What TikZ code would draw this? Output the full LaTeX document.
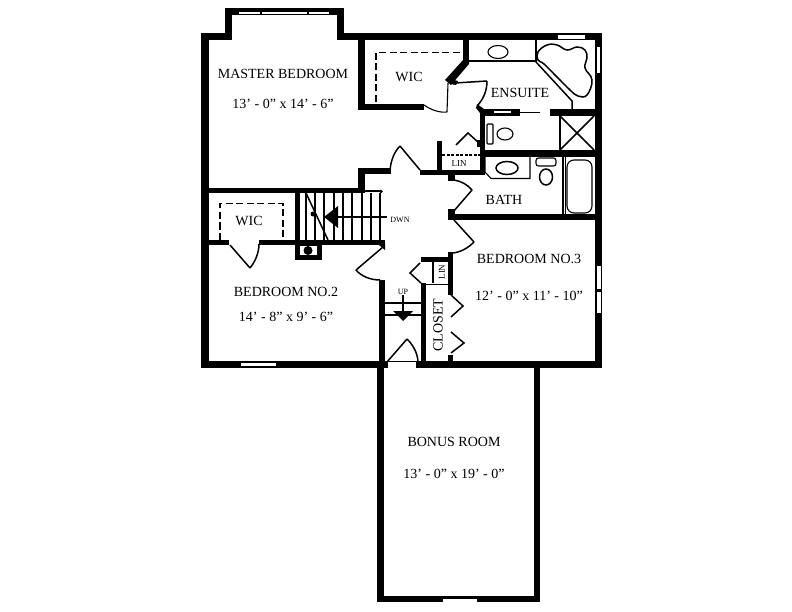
\documentclass[tikz,border=0pt]{standalone}
\usepackage{fontspec}
\setmainfont{Liberation Serif}
\tikzset{
  wall/.style={fill=black,draw=none},
  thinline/.style={draw=black,line width=1.1bp},
  medline/.style={draw=black,line width=1.5bp},
  dashline/.style={draw=black,line width=1.5bp,dash pattern=on 7bp off 3.5bp},
  glass/.style={fill=white,draw=none},
  label/.style={font=\fontsize{14bp}{16bp}\selectfont,inner sep=0pt,text=black},
  small/.style={font=\fontsize{8bp}{9bp}\selectfont,inner sep=0pt,text=black},
}
\begin{document}
\begin{tikzpicture}[x=1bp,y=-1bp]
\useasboundingbox (0,0) rectangle (792,612);
\fill[white] (0,0) rectangle (792,612);
% outer walls
\fill[wall] (201,33) rectangle (209,368);
\fill[wall] (201,33) rectangle (232,40);
\fill[wall] (225,8) rectangle (232,40);
\fill[wall] (225,8) rectangle (344,15);
\fill[wall] (337,8) rectangle (344,40);
\fill[wall] (337,33) rectangle (602,40.5);
\fill[wall] (594.5,33) rectangle (602,368);
\fill[wall] (201,361) rectangle (602,368);
% bonus
\fill[wall] (377,361) rectangle (384,602);
\fill[wall] (534,361) rectangle (540,602);
\fill[wall] (377,596) rectangle (540,602);
% windows
\fill[glass] (239,12) rectangle (260,14.5);
\fill[glass] (262,12) rectangle (307,14.5);
\fill[glass] (309,12) rectangle (329,14.5);
\fill[glass] (558,35.5) rectangle (585,39);
\fill[glass] (596.5,47) rectangle (600,73);
\fill[glass] (241,363) rectangle (276,366);
\fill[glass] (596.5,266) rectangle (600.5,289);
\fill[glass] (596.5,292) rectangle (600.5,313);
\fill[glass] (443,599) rectangle (477,602);
\fill[glass] (388,362) rectangle (416,368);
% master WIC
\fill[wall] (358,40) rectangle (365,110);
\fill[wall] (358,104) rectangle (424,110);
\fill[wall] (463,40) rectangle (469,62);
\fill[wall] (463,60) -- (469,60) -- (469,64) -- (451,85) -- (445,80) -- cycle;
\fill[wall] (450,79) -- (458,81) -- (456,85) -- (450,84) -- cycle;
\draw[dashline] (376,102) -- (376,52.5) -- (463,52.5);
\draw[thinline] (448,83) -- (447,112);
\draw[thinline] (447,112) .. controls (440,113) and (431,110) .. (424,105);
\node[label] (wicA) at (409,77) {WIC};
\node[label] (master) at (283,74) {MASTER BEDROOM};
\node[label] (masterdim) at (283,104) {13’ - 0” x 14’ - 6”};
% ensuite
\draw[medline] (469,61) -- (536,61);
\fill[wall] (535,40) rectangle (537,62);
\draw[thinline] (498,52) ellipse [x radius=10, y radius=6.5];
\draw[medline] plot[smooth cycle,tension=0.7] coordinates {(538,60) (538,52) (547,45) (557,45) (567,50) (577,47) (585,50) (587,58) (585,68) (592,80) (587,95) (578,96) (570,90) (557,77) (544,64)};
\draw[medline] (536,62) -- (572,101) -- (572,109);
\node[label] (ensuite) at (520,93) {ENSUITE};
\draw[medline] (455,83) -- (487,81);
\draw[medline] (487,81) .. controls (487,90) and (484,98) .. (478,105);
\fill[wall] (477,104) -- (484,109) -- (480,113) -- (476,108) -- cycle;
\fill[wall] (480,109) rectangle (520,116);
\fill[glass] (494,111.5) rectangle (511,113);
\draw[medline] (520,112.5) -- (540,112.5);
\fill[wall] (550,109) rectangle (597,116);
\fill[wall] (480,109) rectangle (485,157);
\fill[wall] (480,150) rectangle (597,157);
\draw[medline] (560,116) -- (560,150);
\draw[medline] (560,116) -- (594,150);
\draw[medline] (594,116) -- (560,150);
\draw[thinline,rounded corners=1bp] (487,124) rectangle (493,144);
\draw[thinline] (505,134) ellipse [x radius=8, y radius=6];
\draw[medline] (479,143) -- (468,133) -- (456,145);
\fill[wall] (477,140) rectangle (482,147);
% LIN
\fill[wall] (437,141) rectangle (442,172);
\fill[wall] (420,170) rectangle (482,175);
\fill[wall] (480,155) rectangle (485,175);
\draw[thinline,dash pattern=on 3bp off 1.5bp] (442,155) -- (480,155);
\node[small,font=\fontsize{9bp}{10bp}\selectfont] (linA) at (459,164) {LIN};
% door to master / hall
\draw[medline] (400,146) -- (420,170);
\draw[medline] (390,173) .. controls (390,162) and (394,152) .. (400,146);
\fill[wall] (358,168) rectangle (391,174);
\fill[wall] (358,168) rectangle (365,193);
\fill[wall] (209,188) rectangle (365,193);
% bath
\draw[thinline] (485,157) -- (485,172) -- (491,178.5) -- (530,178.5) -- (530,157);
\draw[medline] (507,168) ellipse [x radius=11, y radius=6.5];
\draw[thinline,rounded corners=2.5bp] (536,158) rectangle (556,166);
\draw[medline] (546,177) ellipse [x radius=6.5, y radius=8];
\draw[thinline] (563,157) -- (563,214);
\draw[thinline] (565.5,157) -- (565.5,214);
\draw[thinline,rounded corners=7bp] (567,160) rectangle (592,213);
\fill[wall] (448,175) rectangle (455,181);
\fill[wall] (448,209) rectangle (455,220);
\fill[wall] (448,214) rectangle (597,220);
\draw[medline] (454,180) .. controls (461,181) and (468,185) .. (472,190);
\draw[medline] (472,190) -- (453,212);
\node[label] (bath) at (504,200) {BATH};
% stairs
\fill[wall] (295,190) rectangle (299.5,260);
\foreach \sx in {306,315,324,334,343,352,362,371,380}{
  \draw[thinline] (\sx,193) -- (\sx,240);
}
\draw[thinline] (365,191) -- (381,191);
\fill (381,191.5) circle (1.8bp);
\draw[medline] (306,193) -- (328,240);
\fill (313,214) circle (2.5bp);
\draw[medline] (327,217) -- (387,217);
\fill (324,217) -- (338,206) -- (338,228) -- cycle;
\node[small] (dwn) at (400,220) {DWN};
% Bedroom 2 wall + WIC
\fill[wall] (209,240) rectangle (229,245);
\fill[wall] (259,240) rectangle (385,245);
\draw[dashline] (220,240) -- (220,203.5) -- (283,203.5) -- (283,240);
\node[label] (wicB) at (249,221) {WIC};
\draw[medline] (230,245) -- (250,268);
\draw[medline] (250,268) .. controls (255,262) and (259,253) .. (259,244);
\fill[wall] (295,245) rectangle (322,260);
\fill[glass] (300,246) rectangle (317,255);
\fill (308,250.5) circle (4.5bp);
\fill[wall] (379,245) -- (385,243) -- (385,250) -- cycle;
\draw[medline] (383,247) -- (356,270);
\draw[medline] (356,270) .. controls (361,276) and (370,280) .. (380,280);
\fill[wall] (379,280) rectangle (385,368);
\node[label] (bed2) at (286,292) {BEDROOM NO.2};
\node[label] (bed2dim) at (286,317) {14’ - 8” x 9’ - 6”};
% up stairs
\draw[medline] (385,303) -- (421,303);
\draw[medline] (385,315) -- (421,315);
\draw[medline] (403,295) -- (403,312);
\fill (393,311) -- (413,311) -- (403,321) -- cycle;
\node[small] (up) at (403,291.5) {UP};
\draw[medline] (387,362) -- (407,339);
\draw[medline] (407,339) .. controls (412,344) and (417,351) .. (418,361);
% Closet and LIN 2
\fill[wall] (421,257) rectangle (453,262);
\fill[wall] (448,252) rectangle (453,295);
\fill[wall] (421,283) rectangle (426,362);
\draw[medline] (421,284.5) -- (448,284.5);
\draw[thinline] (433,262) -- (433,283);
\node[small,font=\fontsize{9bp}{10bp}\selectfont,rotate=90] (linB) at (442,272) {LIN};
\draw[medline] (420,263) -- (410,273) -- (421,283);
\draw[medline] (451,295) -- (463,306) -- (451,317);
\draw[medline] (451,332) -- (464,343) -- (451,353);
\fill[wall] (448,355) rectangle (453,362);
\node[label,rotate=90] (closet) at (438,325) {CLOSET};
% bedroom 3
\draw[medline] (454,220) -- (474,242);
\draw[medline] (474,242) .. controls (468,248) and (461,252) .. (453,253);
\node[label] (bed3) at (529,259) {BEDROOM NO.3};
\node[label] (bed3dim) at (529,296) {12’ - 0” x 11’ - 10”};
% bonus text
\node[label] (bonus) at (454,442) {BONUS ROOM};
\node[label] (bonusdim) at (454,474) {13’ - 0” x 19’ - 0”};
\end{tikzpicture}
\end{document}
